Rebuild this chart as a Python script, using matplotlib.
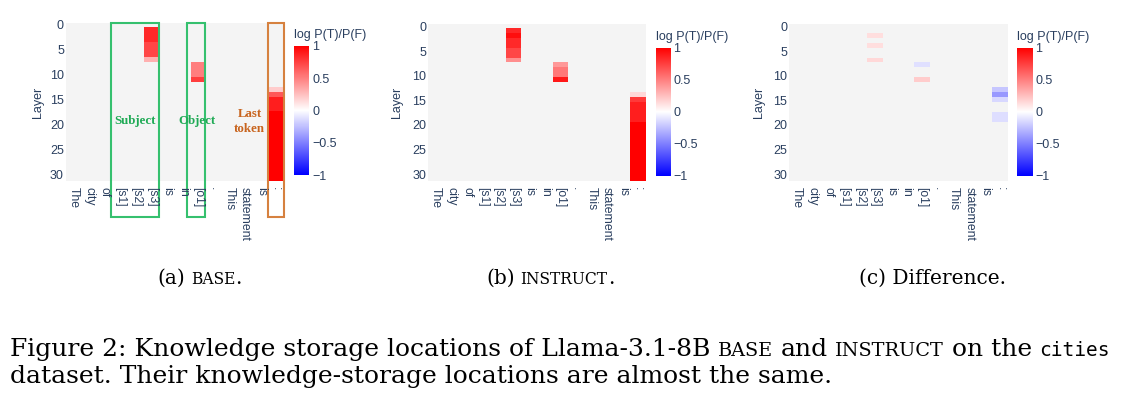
import numpy as np
import matplotlib.pyplot as plt
import matplotlib.transforms as mtransforms
from matplotlib.patches import Rectangle

W, H = 1138, 397

tokens = ["The", "city", "of", "[s1]", "[s2]", "[s3]", "is", "in", "[o1]", ".",
          "This", "statement", "is", ":"]
n_layers = 32
layer_ticks = [0, 5, 10, 15, 20, 25, 30]
cbar_ticks = [-1, -0.5, 0, 0.5, 1]
cbar_labels = ["\u22121", "\u22120.5", "0", "0.5", "1"]

# log P(T)/P(F), one list per token column, starting at the first coloured layer
# (nan = cell left blank in the figure)
nan = np.nan
base_s3 = [0.84, 0.84, 0.84, 0.72, 0.72, 0.72, 0.31]                 # layers 1-7
base_o1 = [0.5, 0.5, 0.5, 0.75]                                      # layers 8-11
base_last = [0.2, 0.65, 0.88, 0.88, 0.88, 1.0, 1.0, 1.0, 1.0, 1.0,
             1.0, 1.0, 1.0, 1.0, 1.0, 1.0, 1.0, 1.0, 1.0]            # layers 13-31

instruct_s3 = [0.84, 0.94, 0.83, 0.83, 0.72, 0.72, 0.44]             # layers 1-7
instruct_o1 = [0.4, 0.53, 0.53, 0.9]                                 # layers 8-11
instruct_last = [0.15, 0.77, 0.88, 0.88, 0.88, 0.88, 1.0, 1.0, 1.0,
                 1.0, 1.0, 1.0, 1.0, 1.0, 1.0, 1.0, 1.0, 1.0]        # layers 14-31

diff_s3 = [0.13, nan, 0.13, nan, nan, 0.15]                          # layers 2-7
diff_o1 = [-0.12, nan, nan, 0.2]                                     # layers 8-11
diff_last = [-0.22, -0.4, -0.15, nan, nan, -0.13, -0.13]             # layers 13-19


def build(columns):
    m = np.full((n_layers, len(tokens)), np.nan)
    for col, first, vals in columns:
        m[first:first + len(vals), col] = vals
    return m


base = build([(5, 1, base_s3), (8, 8, base_o1), (13, 13, base_last)])
instruct = build([(5, 1, instruct_s3), (8, 8, instruct_o1), (13, 14, instruct_last)])
diff = build([(5, 2, diff_s3), (8, 8, diff_o1), (13, 13, diff_last)])

TICK_COLOR = "#2a3f5f"
SANS = "Liberation Sans"
cmap = plt.get_cmap("bwr").copy()
cmap.set_bad("#f4f4f4")

fig = plt.figure(figsize=(W / 100, H / 100), dpi=100)


def px_axes(x0, y0, x1, y1):
    return fig.add_axes([x0 / W, 1 - y1 / H, (x1 - x0) / W, (y1 - y0) / H])


panels = [
    (base, (66, 22.5, 284, 181.5), (294, 45.7, 309.3, 175), -0.103),
    (instruct, (428.3, 24, 646, 181.5), (656, 47.7, 670.7, 175.7), -0.115),
    (diff, (789.3, 24, 1008.3, 181.5), (1017.3, 47.7, 1032.7, 175.7), -0.111),
]

axes = []
for mat, heat_box, cbar_box, label_x in panels:
    ax = px_axes(*heat_box)
    im = ax.imshow(mat, cmap=cmap, vmin=-1, vmax=1, aspect="auto",
                   interpolation="nearest")
    ax.set_xticks(range(len(tokens)))
    ax.set_xticklabels(tokens, rotation=-90, fontsize=8.8, family=SANS,
                       color=TICK_COLOR, va="top", ha="center")
    ax.set_yticks(layer_ticks)
    ax.set_yticklabels([str(t) for t in layer_ticks], fontsize=9, family=SANS,
                       color=TICK_COLOR)
    ax.tick_params(length=0, pad=1.5)
    ax.tick_params(axis="x", pad=4)
    for s in ax.spines.values():
        s.set_visible(False)
    ax.set_ylabel("Layer", fontsize=9, family=SANS, color=TICK_COLOR)
    ax.yaxis.set_label_coords(label_x, 0.5)

    cax = px_axes(*cbar_box)
    cb = fig.colorbar(im, cax=cax, ticks=cbar_ticks)
    cb.set_ticklabels(cbar_labels)
    cb.outline.set_visible(False)
    cax.tick_params(length=0, pad=2, labelsize=9, labelcolor=TICK_COLOR)
    for lab in cax.get_yticklabels():
        lab.set_family(SANS)
    cax.set_title("log P(T)/P(F)", loc="left", fontsize=9, family=SANS,
                  color=TICK_COLOR, pad=5.5)
    axes.append(ax)

# highlight boxes on the BASE panel
ax = axes[0]
trans = mtransforms.blended_transform_factory(ax.transData, ax.transAxes)
GREEN_BOX = "#35c06e"
ORANGE_BOX = "#d6813f"
for x0, x1, color in [(2.37, 5.49, GREEN_BOX), (7.25, 8.45, GREEN_BOX),
                      (12.47, 13.52, ORANGE_BOX)]:
    ax.add_patch(Rectangle((x0, -0.225), x1 - x0, 1.225, transform=trans,
                           fill=False, edgecolor=color, lw=1.5, clip_on=False))

ann = dict(family="Liberation Serif", weight="bold", fontsize=9.3,
           ha="center", va="center")
ax.text(3.93, 19.4, "Subject", color="#1faa55", **ann)
ax.text(7.9, 19.4, "Object", color="#1faa55", **ann)
ax.text(11.3, 19.4, "Last\ntoken", color="#c8641e", linespacing=1.25, **ann)

# captions
renderer = fig.canvas.get_renderer()
CAP = 18
SUB = 14.5
serif = dict(family="DejaVu Serif", size=CAP, color="black")
caps = dict(family="DejaVu Serif", size=CAP * 0.77, color="black")
mono = dict(family="DejaVu Sans Mono", size=14, color="black")
sub = dict(family="DejaVu Serif", size=SUB, color="black")
sub_caps = dict(family="DejaVu Serif", size=SUB * 0.77, color="black")
sp = CAP * 100 / 72 * 0.3
sub_sp = SUB * 100 / 72 * 0.3


def draw_runs(x, y, runs):
    for text, style, gap in runs:
        t = fig.text(x / W, 1 - y / H, text, va="baseline", ha="left", **style)
        x = t.get_window_extent(renderer).x1 + gap
    return x


draw_runs(157, 284, [("(a)", sub, sub_sp), ("BASE", sub_caps, 0), (".", sub, 0)])
draw_runs(486, 284, [("(b)", sub, sub_sp), ("INSTRUCT", sub_caps, 0), (".", sub, 0)])
draw_runs(859, 284, [("(c) Difference.", sub, 0)])

draw_runs(10, 356, [("Figure 2: Knowledge storage locations of Llama-3.1-8B", serif, sp),
                    ("BASE", caps, sp), ("and", serif, sp), ("INSTRUCT", caps, sp),
                    ("on the", serif, sp), ("cities", mono, 0)])
draw_runs(10, 383, [("dataset. Their knowledge-storage locations are almost the same.",
                     serif, 0)])

fig.savefig("out.png", dpi=100)
